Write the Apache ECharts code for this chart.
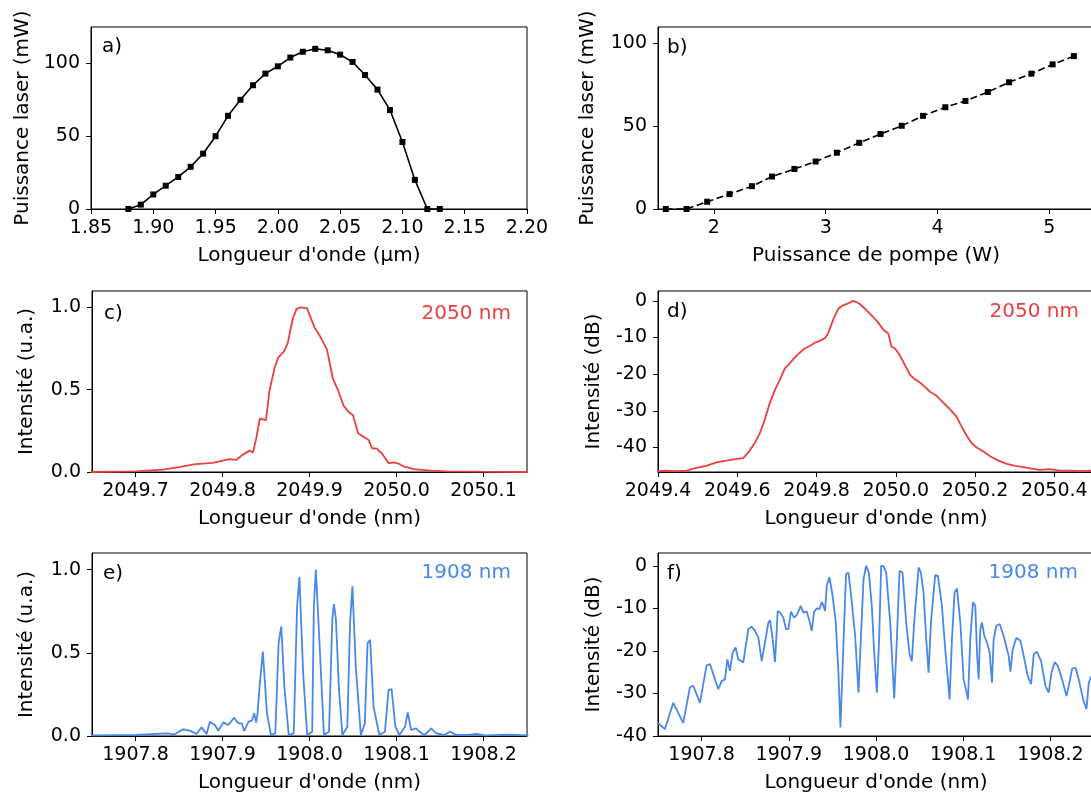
<!DOCTYPE html>
<html>
<head>
<meta charset="utf-8">
<script src="https://cdn.jsdelivr.net/npm/echarts@6/dist/echarts.min.js"></script>
<style>html,body{margin:0;padding:0;background:#fff}#c{width:1091px;height:796px}</style>
</head>
<body>
<div id="c"></div>
<script>
// a) laser power vs wavelength (µm, mW)
const aX = [1.88,1.89,1.90,1.91,1.92,1.93,1.94,1.95,1.96,1.97,1.98,1.99,2.00,2.01,2.02,2.03,2.04,2.05,2.06,2.07,2.08,2.09,2.10,2.11,2.12,2.13];
const aY = [0,3,10,16,22,29,38,50,64,75,85,93,98,104,108,110,109,106,101,92,82,68,46,20,0,0];
// b) laser power vs pump power (W, mW)
const bX = [1.57,1.755,1.94,2.14,2.34,2.52,2.72,2.91,3.10,3.30,3.49,3.68,3.87,4.07,4.25,4.45,4.64,4.84,5.03,5.22];
const bY = [0,0,4.4,9,13.8,19.6,24.2,28.7,34,40,45.3,50.3,56.3,61.5,65.3,70.7,76.6,81.8,87.4,92.4];
// c) spectrum 2050 nm, linear
const cX = [2049.648,2049.700,2049.731,2049.750,2049.769,2049.789,2049.799,2049.808,2049.816,2049.823,2049.831,2049.835,2049.839,2049.843,2049.850,2049.854,2049.860,2049.864,2049.871,2049.875,2049.881,2049.885,2049.889,2049.897,2049.900,2049.906,2049.912,2049.920,2049.927,2049.933,2049.939,2049.945,2049.950,2049.956,2049.962,2049.968,2049.972,2049.977,2049.983,2049.991,2049.997,2050.003,2050.008,2050.020,2050.039,2050.058,2050.097,2050.151];
const cY = [0,0.004,0.014,0.03,0.048,0.056,0.068,0.078,0.074,0.104,0.13,0.118,0.21,0.325,0.315,0.495,0.635,0.695,0.735,0.785,0.936,0.99,1.0,0.996,0.956,0.876,0.826,0.745,0.565,0.495,0.405,0.365,0.345,0.234,0.214,0.194,0.144,0.144,0.114,0.054,0.058,0.05,0.034,0.018,0.008,0.004,0.002,0];
// d) spectrum 2050 nm, dB
const dX = [2049.400,2049.421,2049.446,2049.472,2049.497,2049.522,2049.547,2049.573,2049.598,2049.615,2049.627,2049.644,2049.657,2049.669,2049.682,2049.695,2049.707,2049.720,2049.732,2049.745,2049.758,2049.770,2049.783,2049.796,2049.808,2049.821,2049.829,2049.842,2049.855,2049.867,2049.880,2049.892,2049.905,2049.917,2049.930,2049.943,2049.956,2049.968,2049.981,2049.989,2049.998,2050.010,2050.023,2050.036,2050.048,2050.061,2050.073,2050.086,2050.103,2050.120,2050.137,2050.153,2050.166,2050.179,2050.191,2050.204,2050.221,2050.238,2050.259,2050.280,2050.301,2050.322,2050.343,2050.364,2050.389,2050.414,2050.440,2050.465,2050.493,2050.500];
const dY = [-46.5,-46.3,-46.5,-46.3,-45.6,-45,-44.1,-43.6,-43.1,-42.9,-41.5,-38.8,-36.1,-32.5,-27.9,-24.3,-21.6,-18.4,-17.1,-15.4,-14.1,-13,-12.3,-11.4,-10.9,-10.2,-8.9,-5.1,-2.1,-1.2,-0.7,0,-0.5,-1.6,-3,-4.4,-6,-7.8,-8.9,-12.5,-13,-14.8,-17.5,-20.2,-21.4,-22.3,-23.4,-24.8,-25.9,-27.8,-29.6,-31.6,-34.3,-36.8,-38.8,-40,-41.1,-42.4,-43.6,-44.5,-45,-45.4,-45.8,-46.1,-45.9,-46.3,-46.3,-46.5,-46.3,-46.4];
// e) spectrum 1908 nm, linear
const eX = [1907.7487,1907.8000,1907.8355,1907.8451,1907.8547,1907.8624,1907.8701,1907.8759,1907.8817,1907.8855,1907.8913,1907.8952,1907.9010,1907.9067,1907.9133,1907.9183,1907.9222,1907.9249,1907.9299,1907.9337,1907.9364,1907.9387,1907.9403,1907.9426,1907.9464,1907.9511,1907.9557,1907.9607,1907.9645,1907.9676,1907.9711,1907.9761,1907.9819,1907.9857,1907.9884,1907.9927,1907.9973,1908.0031,1908.0050,1908.0073,1908.0104,1908.0166,1908.0224,1908.0262,1908.0281,1908.0304,1908.0339,1908.0378,1908.0435,1908.0466,1908.0493,1908.0532,1908.0590,1908.0636,1908.0667,1908.0697,1908.0736,1908.0802,1908.0867,1908.0909,1908.0944,1908.0987,1908.1033,1908.1098,1908.1129,1908.1168,1908.1225,1908.1264,1908.1322,1908.1399,1908.1457,1908.1553,1908.1611,1908.1688,1908.1823,1908.1919,1908.2015,1908.2285,1908.2516];
const eY = [0.004,0.006,0.016,0.010,0.040,0.032,0.012,0.052,0.012,0.086,0.066,0.032,0.082,0.066,0.110,0.076,0.076,0.030,0.086,0.092,0.137,0.080,0.137,0.297,0.508,0.137,0.006,0.016,0.558,0.659,0.297,0.006,0.016,0.779,0.956,0.378,0.006,0.026,0.779,1.0,0.679,0.006,0.026,0.699,0.793,0.699,0.277,0.006,0.056,0.679,0.900,0.418,0.006,0.076,0.558,0.578,0.177,0.006,0.026,0.277,0.281,0.056,0.006,0.056,0.141,0.036,0.046,0.026,0.006,0.046,0.016,0.006,0.026,0.006,0.006,0.012,0.004,0.008,0.004];
// f) spectrum 1908 nm, dB
const fX = [1907.7502,1907.7579,1907.7675,1907.7789,1907.7866,1907.7904,1907.7981,1907.8057,1907.8096,1907.8191,1907.8230,1907.8268,1907.8295,1907.8325,1907.8356,1907.8390,1907.8421,1907.8478,1907.8536,1907.8574,1907.8612,1907.8651,1907.8689,1907.8727,1907.8766,1907.8785,1907.8815,1907.8842,1907.8873,1907.8900,1907.8938,1907.8968,1907.8995,1907.9026,1907.9060,1907.9091,1907.9137,1907.9167,1907.9206,1907.9236,1907.9263,1907.9290,1907.9321,1907.9351,1907.9378,1907.9397,1907.9416,1907.9435,1907.9466,1907.9500,1907.9539,1907.9569,1907.9592,1907.9615,1907.9638,1907.9657,1907.9684,1907.9715,1907.9761,1907.9799,1907.9826,1907.9857,1907.9887,1907.9918,1907.9952,1907.9979,1908.0010,1908.0036,1908.0059,1908.0086,1908.0117,1908.0163,1908.0209,1908.0239,1908.0270,1908.0304,1908.0346,1908.0385,1908.0411,1908.0438,1908.0488,1908.0515,1908.0545,1908.0576,1908.0603,1908.0630,1908.0679,1908.0710,1908.0756,1908.0794,1908.0844,1908.0871,1908.0901,1908.0928,1908.0967,1908.1005,1908.1055,1908.1081,1908.1112,1908.1139,1908.1158,1908.1177,1908.1196,1908.1215,1908.1242,1908.1273,1908.1303,1908.1330,1908.1349,1908.1380,1908.1418,1908.1464,1908.1522,1908.1541,1908.1568,1908.1610,1908.1656,1908.1694,1908.1740,1908.1778,1908.1809,1908.1847,1908.1893,1908.1943,1908.1981,1908.2012,1908.2050,1908.2084,1908.2134,1908.2184,1908.2211,1908.2249,1908.2287,1908.2325,1908.2375,1908.2414,1908.2440,1908.2471,1908.2510];
const fY = [-37.0,-38.4,-32.2,-36.9,-28.6,-28.2,-32.2,-23.4,-23.1,-29.0,-27.1,-26.7,-22.0,-24.7,-20.4,-19.2,-22.0,-22.7,-14.9,-14.3,-15.3,-16.9,-22.4,-18.0,-13.3,-12.8,-17.3,-22.6,-10.6,-11.0,-12.2,-14.9,-14.9,-10.8,-12.2,-11.6,-9.4,-11.0,-10.8,-12.9,-15.3,-10.8,-10.0,-10.2,-8.5,-9.4,-10.6,-4.7,-2.7,-6.7,-13.3,-25.1,-38.0,-25.1,-11.8,-2.0,-1.6,-7.1,-16.5,-29.8,-17.3,-3.1,0.0,-1.6,-9.4,-20.4,-29.8,-17.3,0.0,-0.1,-1.6,-13.3,-31.2,-17.3,-1.2,-1.6,-13.3,-20.8,-22.4,-13.3,-0.4,-1.6,-6.3,-17.3,-25.1,-13.3,-2.2,-2.4,-9.4,-19.6,-31.4,-17.3,-6.3,-5.3,-13.3,-26.7,-31.4,-17.3,-8.6,-9.4,-20.4,-26.7,-14.9,-13.3,-16.5,-18.0,-20.4,-27.5,-17.3,-14.1,-13.7,-16.5,-21.2,-24.9,-19.6,-16.9,-17.6,-21.2,-25.9,-27.8,-20.8,-20.2,-22.4,-28.2,-29.8,-25.1,-22.6,-23.5,-26.7,-30.6,-28.2,-24.2,-23.9,-26.7,-31.4,-33.7,-27.5,-25.9,-25.5];

// tick values
const aXTicks = [1.85,1.90,1.95,2.00,2.05,2.10,2.15,2.20];
const aYTicks = [0,50,100];
const bXTicks = [2,3,4,5];
const bYTicks = [0,50,100];
const cXTicks = [2049.7,2049.8,2049.9,2050.0,2050.1];
const linYTicks = [0,0.5,1.0];
const dXTicks = [2049.4,2049.6,2049.8,2050.0,2050.2,2050.4];
const dBYTicks = [0,-10,-20,-30,-40];
const eXTicks = [1907.8,1907.9,1908.0,1908.1,1908.2];

const FONT = 'DejaVu Sans';
const RED = '#e8413f', BLUE = '#4a88e8';
const zip = (xs, ys) => xs.map((x, i) => [x, ys[i]]);

const grids = [
  {left: 91, top: 27, width: 436, height: 182},
  {left: 658, top: 27, width: 436, height: 182},
  {left: 92, top: 291, width: 435, height: 181},
  {left: 658, top: 291, width: 436, height: 181},
  {left: 92, top: 553, width: 435, height: 183},
  {left: 658, top: 553, width: 436, height: 183}
].map(g => Object.assign(g, {show: true, borderColor: '#000', borderWidth: 1, backgroundColor: 'rgba(0,0,0,0)', containLabel: false, outerBoundsMode: 'none'}));

function axis(isX, gi, min, max, ticks, dec, name, gap) {
  return {
    type: 'value', gridIndex: gi, min: min, max: max,
    name: name, nameLocation: 'middle', nameGap: gap, nameRotate: isX ? 0 : 90,
    nameMoveOverlap: false,
    nameTextStyle: {fontSize: 20, color: '#000', fontFamily: FONT},
    axisLine: {show: true, onZero: false, lineStyle: {color: '#000', width: 1}},
    axisTick: {show: true, inside: false, length: 5, lineStyle: {color: '#000', width: 1}, customValues: ticks},
    axisLabel: {show: true, customValues: ticks, formatter: v => Number(v).toFixed(dec), fontSize: 19, color: '#000', fontFamily: FONT, margin: isX ? 10 : 11, hideOverlap: false},
    splitLine: {show: false}
  };
}

const xAxes = [
  axis(true, 0, 1.85, 2.20, aXTicks, 2, "Longueur d'onde (µm)", 37),
  axis(true, 1, 1.5, 5.4, bXTicks, 0, 'Puissance de pompe (W)', 37),
  axis(true, 2, 2049.65, 2050.15, cXTicks, 1, "Longueur d'onde (nm)", 37),
  axis(true, 3, 2049.4, 2050.5, dXTicks, 1, "Longueur d'onde (nm)", 37),
  axis(true, 4, 1907.75, 1908.25, eXTicks, 1, "Longueur d'onde (nm)", 37),
  axis(true, 5, 1907.75, 1908.25, eXTicks, 1, "Longueur d'onde (nm)", 37)
];
const yAxes = [
  axis(false, 0, 0, 125, aYTicks, 0, 'Puissance laser (mW)', 58),
  axis(false, 1, 0, 110, bYTicks, 0, 'Puissance laser (mW)', 60),
  axis(false, 2, 0, 1.1, linYTicks, 1, 'Intensité (u.a.)', 55),
  axis(false, 3, -46.7, 2.7, dBYTicks, 0, 'Intensité (dB)', 54),
  axis(false, 4, 0, 1.1, linYTicks, 1, 'Intensité (u.a.)', 55),
  axis(false, 5, -40, 3, dBYTicks, 0, 'Intensité (dB)', 54)
];

function line(i, xs, ys, color, extra) {
  return Object.assign({
    type: 'line', xAxisIndex: i, yAxisIndex: i, data: zip(xs, ys),
    showSymbol: false, symbol: 'none', clip: true, animation: false,
    lineStyle: {color: color, width: 1.8}, itemStyle: {color: color}
  }, extra || {});
}

const series = [
  line(0, aX, aY, '#000', {showSymbol: true, symbol: 'rect', symbolSize: 6, lineStyle: {color: '#000', width: 1.6}}),
  line(1, bX, bY, '#000', {showSymbol: true, symbol: 'rect', symbolSize: 6, lineStyle: {color: '#000', width: 1.6, type: [7, 3.5]}}),
  line(2, cX, cY, RED),
  line(3, dX, dY, RED),
  line(4, eX, eY, BLUE),
  line(5, fX, fY, BLUE)
];

function txt(x, y, t, color, align) {
  return {type: 'text', x: x, y: y, z: 100, silent: true,
    style: {text: t, fill: color, font: '20px "' + FONT + '"', fontSize: 20, fontFamily: FONT,
      align: align, textAlign: align, verticalAlign: 'middle', textVerticalAlign: 'middle'}};
}
const graphics = [
  txt(102, 47, 'a)', '#000', 'left'),
  txt(667, 48, 'b)', '#000', 'left'),
  txt(104, 314, 'c)', '#000', 'left'),
  txt(667, 312, 'd)', '#000', 'left'),
  txt(103, 574, 'e)', '#000', 'left'),
  txt(667, 574, 'f)', '#000', 'left'),
  txt(511, 314, '2050 nm', RED, 'right'),
  txt(1079, 312, '2050 nm', RED, 'right'),
  txt(511, 573, '1908 nm', BLUE, 'right'),
  txt(1078, 573, '1908 nm', BLUE, 'right')
];

const chart = echarts.init(document.getElementById('c'), null, {renderer: 'canvas'});
chart.setOption({
  animation: false,
  backgroundColor: '#fff',
  textStyle: {fontFamily: FONT},
  grid: grids, xAxis: xAxes, yAxis: yAxes, series: series, graphic: graphics
});
</script>
</body>
</html>
